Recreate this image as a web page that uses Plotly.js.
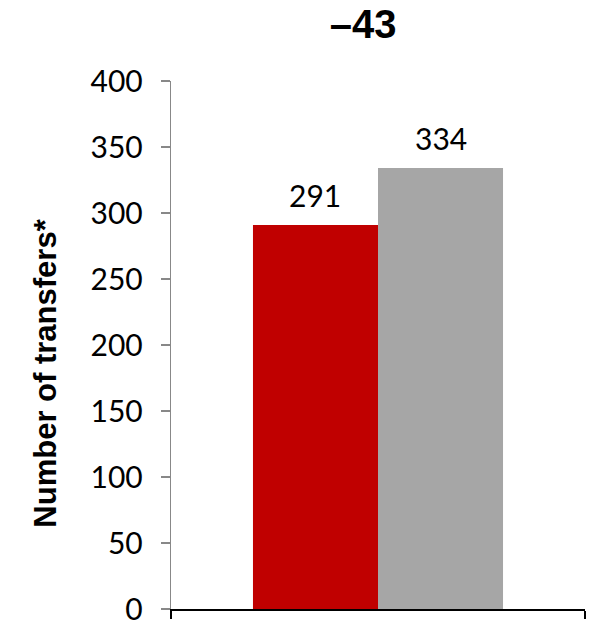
<!DOCTYPE html>
<html>
<head>
<meta charset="utf-8">
<script src="https://cdn.plot.ly/plotly-3.0.1.min.js"></script>
<style>html,body{margin:0;padding:0;background:#fff;}#chart{width:590px;height:627px;}</style>
</head>
<body>
<div id="chart"></div>
<script>
const categories = ['Transfers'];
const seriesNames = ['Current', 'Previous'];
const seriesValues = [[291], [334]];
const seriesColors = ['#C00000', '#A6A6A6'];
const yTickVals = [0, 50, 100, 150, 200, 250, 300, 350, 400];
const titleText = '\u201343';
const yTitleText = 'Number of transfers*';

const traces = seriesNames.map((n, i) => ({
  type: 'bar',
  name: n,
  x: categories,
  y: seriesValues[i],
  marker: {color: seriesColors[i], line: {width: 0}},
  hoverinfo: 'none'
}));

const bargap = 0.396;
const barW = (1 - bargap) / seriesNames.length;
const annotations = [];
seriesNames.forEach((n, i) => {
  seriesValues[i].forEach((v, j) => {
    annotations.push({
      x: j - (1 - bargap) / 2 + barW * (i + 0.5),
      y: v,
      xref: 'x', yref: 'y',
      text: String(v),
      showarrow: false,
      yanchor: 'bottom',
      yshift: 10,
      font: {family: 'Lato, sans-serif', size: 30, color: '#000'}
    });
  });
});
annotations.push({
  xref: 'paper', yref: 'paper',
  x: -0.304, y: 0.446,
  text: '<b>' + yTitleText + '</b>',
  textangle: -90,
  showarrow: false,
  xanchor: 'center', yanchor: 'middle',
  font: {family: 'Liberation Sans, Arial, sans-serif', size: 31, color: '#000'}
});

const layout = {
  width: 590, height: 627,
  margin: {l: 171, r: 5, t: 81, b: 18},
  paper_bgcolor: '#fff', plot_bgcolor: '#fff',
  showlegend: false,
  barmode: 'group',
  bargap: bargap,
  bargroupgap: 0,
  title: {
    text: '<b>' + titleText + '</b>',
    xref: 'paper', x: 0.464, xanchor: 'center',
    yref: 'container', y: 1 - 24/627, yanchor: 'middle',
    font: {family: 'Liberation Sans, Arial, sans-serif', size: 40, color: '#000'}
  },
  xaxis: {
    type: 'category',
    range: [-0.5, 0.5],
    showticklabels: false,
    showgrid: false,
    zeroline: false,
    showline: true, linecolor: '#000', linewidth: 2,
    ticks: 'outside', tickson: 'boundaries', ticklen: 8, tickwidth: 2, tickcolor: '#000',
    fixedrange: true
  },
  yaxis: {
    range: [0, 400],
    tickmode: 'array', tickvals: yTickVals,
    showgrid: false, zeroline: false,
    showline: true, linecolor: '#888', linewidth: 1.3,
    ticks: 'outside', ticklen: 9, tickwidth: 1.3, tickcolor: '#888',
    tickfont: {family: 'Lato, sans-serif', size: 30, color: '#000'},
    ticklabelstandoff: 12,
    fixedrange: true
  },
  annotations: annotations
};

Plotly.newPlot('chart', traces, layout, {staticPlot: true, displayModeBar: false});
</script>
</body>
</html>
